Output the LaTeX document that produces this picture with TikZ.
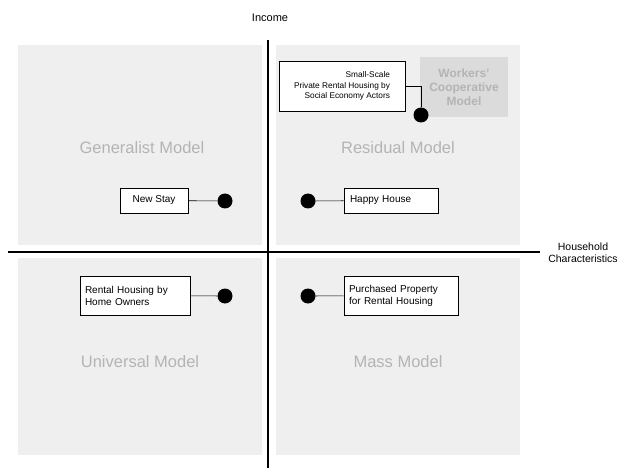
\documentclass[tikz,border=0pt]{standalone}
\usepackage{fontspec}
\setmainfont{Liberation Sans}
\usepackage{tikz}
\usepackage{xcolor}
\definecolor{quadgrey}{HTML}{EFEFEF}
\definecolor{titlegrey}{HTML}{B4B4B4}
\tikzset{
    quad-box/.style = {fill=quadgrey, draw=none},
    model-title/.style = {text=titlegrey, font=\fontsize{16.5}{19}\selectfont},
    case-box/.style = {draw=black, fill=white, semithick, rectangle, font=\fontsize{10}{12}\selectfont, inner sep=3pt},
    case-dot/.style = {circle, fill=black, minimum size=15pt, inner sep=0pt},
    axis-line/.style = {line width=1.8pt},
}

\begin{document}
\begin{tikzpicture}[x=1pt,y=-1pt]
\useasboundingbox (0,0) rectangle (619,468);
% quadrants
\fill[quad-box] (18,45) rectangle (262,245);
\fill[quad-box] (276,45) rectangle (520,245);
\fill[quad-box] (18,258) rectangle (262,455);
\fill[quad-box] (276,258) rectangle (520,455);
% axes
\draw[axis-line] (268,40) -- (268,468);
\draw[axis-line] (8,252) -- (540,252);
\node[font=\fontsize{11}{13}\selectfont] (income) at (270,18) {Income};
\node[font=\fontsize{10.5}{12}\selectfont, align=center] (household) at (583,253) {Household\\Characteristics};
% model titles
\node[model-title] (generalist) at (142,148) {Generalist Model};
\node[model-title] (residual) at (398,148) {Residual Model};
\node[model-title] (universal) at (140,362) {Universal Model};
\node[model-title] (mass) at (398,362) {Mass Model};
\node[fill=black!14, text=titlegrey, font=\bfseries\fontsize{12}{14}\selectfont, align=center, minimum width=88pt, minimum height=60pt] (workers) at (464,87) {Workers'\\Cooperative\\Model};
% cases
\node[case-box, align=right, font=\fontsize{8.3}{10.5}\selectfont, minimum width=126pt, minimum height=50pt] (smallscale) at (342,86) {Small-Scale\\Private Rental Housing by\\Social Economy Actors};
\node[case-dot] (dot-small) at (421,115) {};
\draw[semithick] (smallscale.east) -| (dot-small);
\node[case-box, minimum width=68pt, minimum height=25pt] (newstay) at (154,200.5) {New Stay};
\node[case-dot] (dot-new) at (225,201) {};
\draw[semithick] (newstay) -- (dot-new);
\node[case-box, minimum width=94pt, minimum height=25pt, align=left, text width=82pt] (happy) at (391,200.5) {Happy House};
\node[case-dot] (dot-happy) at (308,201) {};
\draw[semithick] (dot-happy) -- (happy);
\node[case-box, align=left, minimum width=110pt, minimum height=39pt, text width=100pt] (homeowners) at (135,295.5) {Rental Housing by\\Home Owners};
\node[case-dot] (dot-home) at (225,296) {};
\draw[semithick] (homeowners) -- (dot-home);
\node[case-box, align=left, minimum width=114pt, minimum height=39pt, text width=104pt] (purchased) at (401,295.5) {Purchased Property\\for Rental Housing};
\node[case-dot] (dot-purch) at (308,296) {};
\draw[semithick] (dot-purch) -- (purchased);
\end{tikzpicture}
\end{document}
